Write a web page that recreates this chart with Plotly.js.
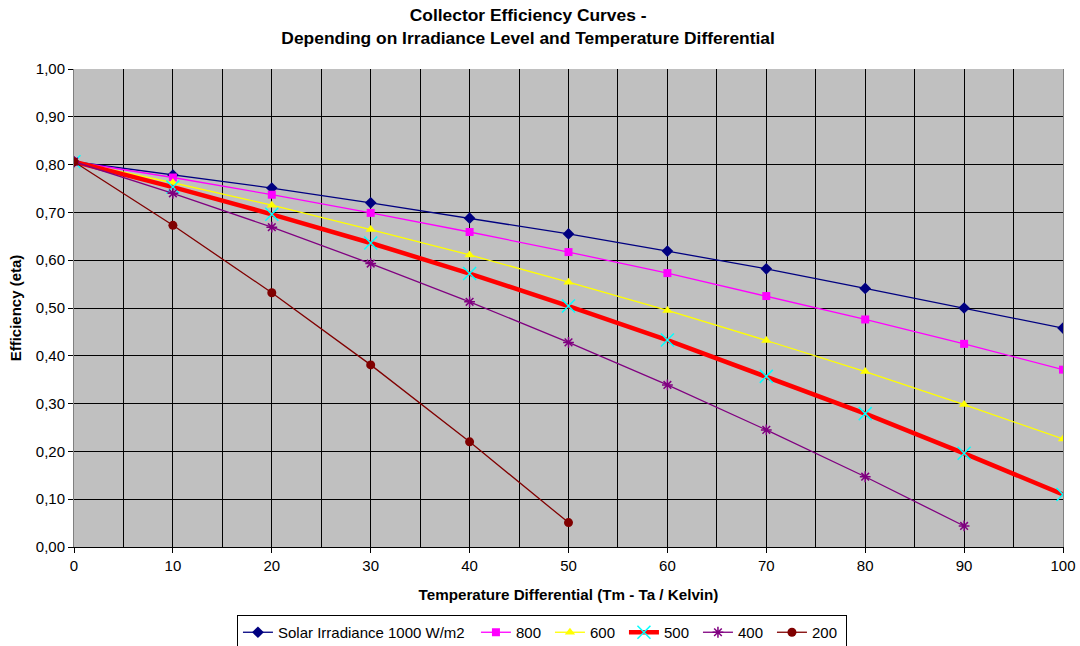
<!DOCTYPE html>
<html><head><meta charset="utf-8">
<script src="https://cdn.plot.ly/plotly-3.0.1.min.js"></script>
<style>html,body{margin:0;padding:0;background:#fff}</style>
</head><body>
<div id="chart" style="width:1080px;height:646px"></div>
<script>
const dT = [0,10,20,30,40,50,60,70,80,90,100];
const eta1000 = [0.806,0.778,0.751,0.720,0.688,0.655,0.619,0.582,0.541,0.500,0.458];
const eta800  = [0.806,0.773,0.737,0.699,0.659,0.617,0.573,0.525,0.476,0.425,0.371];
const eta600  = [0.806,0.762,0.715,0.664,0.611,0.554,0.495,0.432,0.367,0.298,0.226];
const eta500  = [0.806,0.753,0.696,0.636,0.572,0.504,0.433,0.357,0.279,0.196,0.110];
const eta400  = [0.806,0.740,0.669,0.593,0.513,0.428,0.339,0.245,0.147,0.044];
const eta200  = [0.806,0.673,0.532,0.381,0.220,0.051];
const names = ['Solar Irradiance 1000 W/m2','800','600','500','400','200'];

const traces = [
  {x:dT, y:eta1000, name:names[0], legendwidth:193, mode:'lines+markers', line:{color:'#000080',width:1.3}, marker:{symbol:'diamond',size:9,color:'#000080'}},
  {x:dT, y:eta800, name:names[1], legendwidth:29, mode:'lines+markers', line:{color:'#FF00FF',width:1.3}, marker:{symbol:'square',size:8,color:'#FF00FF'}},
  {x:dT, y:eta600, name:names[2], legendwidth:29, mode:'lines+markers', line:{color:'#FFFF00',width:1.3}, marker:{symbol:'triangle-up',size:9,color:'#FFFF00'}},
  {x:dT, y:eta500, name:names[3], legendwidth:29, mode:'lines+markers', line:{color:'#FF0000',width:4.5}, marker:{symbol:'x-thin-open',size:13,color:'#00FFFF',line:{color:'#00FFFF',width:1.5}}},
  {x:dT.slice(0,eta400.length), y:eta400, name:names[4], legendwidth:29, mode:'lines+markers', line:{color:'#800080',width:1.3}, marker:{symbol:'asterisk-open',size:9,color:'#800080',line:{color:'#800080',width:1.5}}},
  {x:dT.slice(0,eta200.length), y:eta200, name:names[5], legendwidth:29, mode:'lines+markers', line:{color:'#800000',width:1.3}, marker:{symbol:'circle',size:9,color:'#800000'}}
];

const font = 'Liberation Sans, Arial, sans-serif';
const layout = {
  width:1080, height:646,
  separators:',.',
  paper_bgcolor:'#ffffff', plot_bgcolor:'#C0C0C0',
  margin:{l:74, r:17, t:69, b:99, autoexpand:false},
  font:{family:font, size:15, color:'#000'},
  title:{text:'<b>Collector Efficiency Curves -<br>Depending on Irradiance Level and Temperature Differential</b>', x:0.489, xref:'container', xanchor:'center', y:0.967, yref:'container', yanchor:'top', font:{family:font,size:17.4,color:'#000'}},
  xaxis:{range:[0,100], dtick:10, tick0:0, showgrid:true, gridcolor:'#000', gridwidth:1,
    minor:{dtick:5, showgrid:true, gridcolor:'#000', gridwidth:1},
    showline:true, linecolor:'#000', linewidth:1, mirror:false, ticks:'outside', ticklen:5, tickcolor:'#000',
    zeroline:false, tickfont:{family:font,size:15}, automargin:false,
    title:{text:'<b>Temperature Differential (Tm - Ta / Kelvin)</b>', font:{family:font,size:15.2}, standoff:16}},
  yaxis:{range:[0,1], dtick:0.1, tickformat:'.2f', showgrid:true, gridcolor:'#000', gridwidth:1,
    showline:true, linecolor:'#808080', linewidth:1, mirror:true, ticks:'outside', ticklen:5, tickcolor:'#000',
    zeroline:false, tickfont:{family:font,size:15}, automargin:false,
    title:{text:'<b>Efficiency (eta)</b>', font:{family:font,size:15}, standoff:10}},
  legend:{orientation:'h', x:0.2194, xref:'container', xanchor:'left', y:0.0209, yref:'container', yanchor:'middle', bordercolor:'#000', borderwidth:1,
    font:{family:font,size:15}, traceorder:'normal', entrywidthmode:'pixels'},
  showlegend:true
};
Plotly.newPlot('chart', traces, layout, {displayModeBar:false, staticPlot:true});
</script>
</body></html>
